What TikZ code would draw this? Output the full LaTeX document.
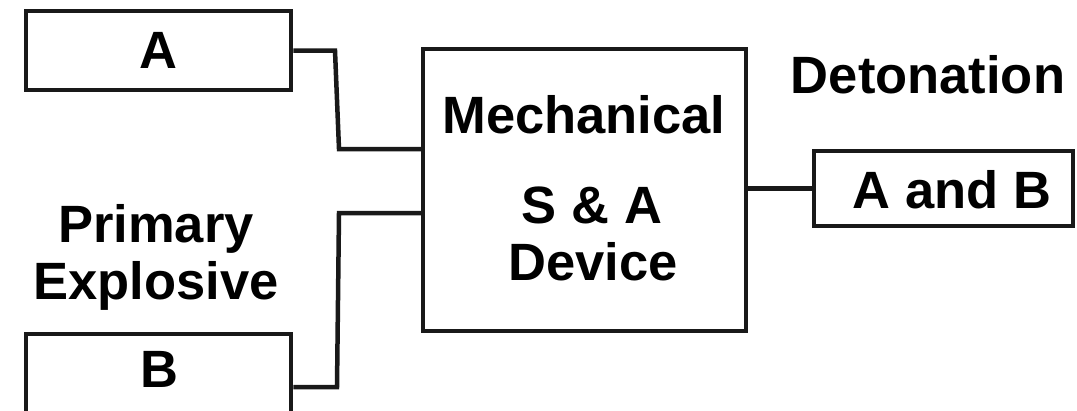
\documentclass[tikz,border=0pt]{standalone}
\usepackage{fontspec}
\setmainfont{Liberation Sans}
\begin{document}
\begin{tikzpicture}[x=1pt,y=-1pt,
  box/.style={draw=black!90,line width=4.5pt,rectangle,inner sep=0pt},
  txt/.style={inner sep=0pt,anchor=base,font=\fontsize{52.5}{57}\selectfont\bfseries},
  wire/.style={draw=black!90,line width=4.5pt,line join=miter}]
\useasboundingbox (0,0) rectangle (1077,410);
\clip (0,0) rectangle (1077,410);
% boxes
\node[box,minimum width=265pt,minimum height=79pt] (A) at (158.5,50.5) {};
\node[box,minimum width=265pt,minimum height=120pt] (B) at (158.5,394) {};
\node[box,minimum width=323pt,minimum height=282pt] (M) at (584.5,190) {};
\node[box,minimum width=259pt,minimum height=75pt] (D) at (943.5,188.5) {};
% texts
\node[txt] (tA) at (158,68) {A};
\node[txt] (tB) at (159,387) {B};
\node[txt] (tM1) at (584,133) {Mechanical};
\node[txt] (tM2) at (592,223) {S \& A};
\node[txt] (tM3) at (593,280) {Device};
\node[txt] (tD) at (952,208) {A and B};
\node[txt] (tDet) at (928,93) {Detonation};
\node[txt] (tP1) at (156,242) {Primary};
\node[txt] (tP2) at (156,299) {Explosive};
% connectors
\draw[wire] (A.east) -- (335,50.5) -- (339,149) -- (M.west |- 0,149);
\draw[wire] (B.east |- 0,387) -- (337,387) -- (339,213) -- (M.west |- 0,213);
\draw[wire] (M.east |- D.west) -- (D.west);
\end{tikzpicture}
\end{document}
